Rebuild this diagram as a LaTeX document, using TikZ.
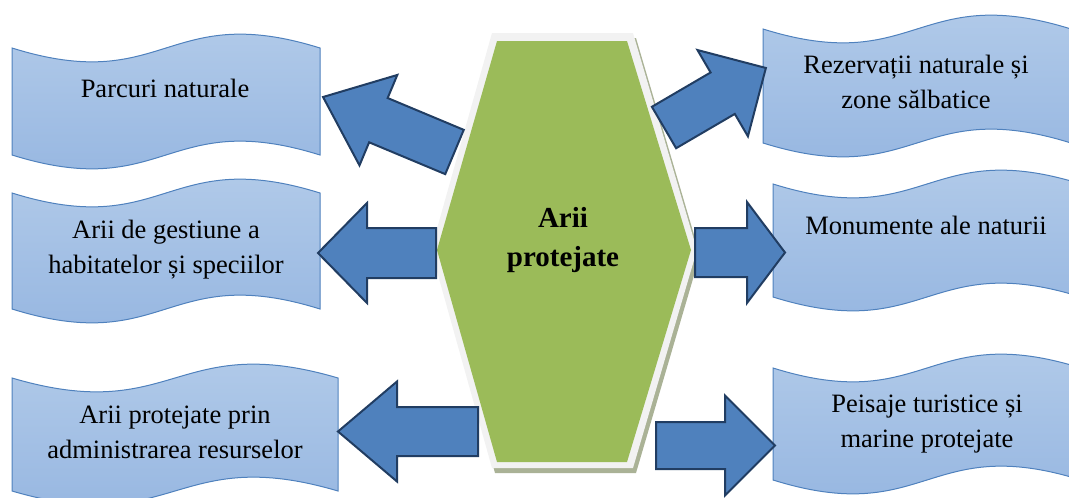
\documentclass[tikz,border=0pt]{standalone}
\usepackage{fontspec}
\setmainfont{Liberation Serif}
\definecolor{wavetop}{HTML}{B5CDEA}
\definecolor{wavebot}{HTML}{93B4E0}
\definecolor{waveline}{HTML}{4F81BD}
\definecolor{arrfill}{HTML}{4F81BD}
\definecolor{arrline}{HTML}{213D62}
\definecolor{hexgreen}{HTML}{9BBB59}
\definecolor{hexrim}{HTML}{F2F2F2}
\definecolor{hexshadow}{HTML}{AAB296}

% wavy banner: left x, top-left y, width, height, bend
\newcommand\wavebox[5]{%
  \shade[wave] (#1,#2) .. controls ({#1+#3/2},{#2+#5}) and ({#1+#3/2},{#2-#5}) .. ({#1+#3},#2)
    -- ({#1+#3},{#2+#4}) .. controls ({#1+#3/2},{#2+#4-#5}) and ({#1+#3/2},{#2+#4+#5}) .. (#1,{#2+#4}) -- cycle;}

% block arrow: tail coordinate, angle, length, shaft half width, head half width, head length
\newcommand\blockarrow[6]{%
  \begin{scope}[shift={(#1)}, rotate=#2]
    \draw[blockarr] (0,-#4) -- ({#3-#6},-#4) -- ({#3-#6},-#5) -- (#3,0)
      -- ({#3-#6},#5) -- ({#3-#6},#4) -- (0,#4) -- cycle;
  \end{scope}}

\begin{document}
\begin{tikzpicture}[x=1pt,y=-1pt,
  wave/.style={draw=waveline, line width=1pt, top color=wavetop, bottom color=wavebot},
  blockarr/.style={draw=arrline, fill=arrfill, line width=2pt, line join=miter},
  label/.style={align=center, inner sep=0pt, font=\fontsize{26.5}{35}\selectfont},
  title/.style={align=center, inner sep=0pt, font=\bfseries\fontsize{29}{39}\selectfont}]
\useasboundingbox (0,0) rectangle (1069,498);
\clip (0,0) rectangle (1069,498);

% banners
\wavebox{12}{48}{308}{107}{48}
\wavebox{763}{29}{308}{114}{48}
\wavebox{12}{193}{308}{116}{48}
\wavebox{773}{184}{308}{113}{48}
\wavebox{12}{378}{326}{113}{48}
\wavebox{773}{368}{308}{112}{48}

% central hexagon with rim and shadow
\fill[hexshadow] (495,38) -- (636,38) -- (700,255) -- (636,473) -- (495,473) -- (434,255) -- cycle;
\fill[hexrim] (492,33) -- (633,33) -- (697,250) -- (633,468) -- (492,468) -- (431,250) -- cycle;
\fill[hexgreen] (497,41) -- (627,41) -- (691,250) -- (627,462) -- (497,462) -- (437,250) -- cycle;

% arrow tails on the hexagon
\coordinate (t1) at (454.5,152);
\coordinate (t2) at (664,127.5);
\coordinate (t3) at (436,253);
\coordinate (t4) at (695,252.5);
\coordinate (t5) at (478,431.5);
\coordinate (t6) at (656,445.5);

\blockarrow{t1}{157.3}{142.5}{24}{49}{60}
\blockarrow{t2}{30.3}{118}{24}{50}{50}
\blockarrow{t3}{180}{118}{25}{50}{49}
\blockarrow{t4}{0}{90}{24.5}{50.5}{38}
\blockarrow{t5}{180}{140}{24.5}{50}{59}
\blockarrow{t6}{0}{119}{23.5}{50}{50}

% texts
\node[title] (hub) at (563,240) {Arii\\protejate};
\node[label, anchor=base] (parcuri) at (165,97) {Parcuri naturale};
\node[label] (rez) at (916,82) {Rezervații naturale și\\zone sălbatice};
\node[label] (gest) at (166,249.5) {Arii de gestiune a\\habitatelor și speciilor};
\node[label, anchor=base] (mon) at (926,234) {Monumente ale naturii};
\node[label] (prin) at (175,432.5) {Arii protejate prin\\administrarea resurselor};
\node[label] (peis) at (927,424.5) {Peisaje turistice și\\marine protejate};
\end{tikzpicture}
\end{document}
